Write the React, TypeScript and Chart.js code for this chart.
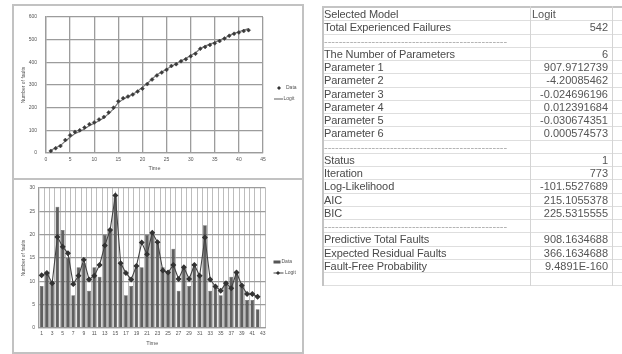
import React, { useEffect, useRef } from "react";
import { Chart, registerables } from "chart.js";

Chart.register(...registerables);

// ---------- data ----------
const weeks = [1, 2, 3, 4, 5, 6, 7, 8, 9, 10, 11, 12, 13, 14, 15, 16, 17, 18, 19, 20, 21, 22, 23, 24, 25, 26, 27, 28, 29, 30, 31, 32, 33, 34, 35, 36, 37, 38, 39, 40, 41, 42];
const weekLabels = ["1", "2", "3", "4", "5", "6", "7", "8", "9", "10", "11", "12", "13", "14", "15", "16", "17", "18", "19", "20", "21", "22", "23", "24", "25", "26", "27", "28", "29", "30", "31", "32", "33", "34", "35", "36", "37", "38", "39", "40", "41", "42", "43"];
const weeklyFaults = [9, 12, 10, 26, 21, 15, 7, 13, 14, 8, 13, 11, 20, 21, 28, 14, 7, 9, 13, 13, 20, 20, 18, 13, 12, 17, 8, 13, 9, 13, 11, 22, 8, 9, 7, 10, 11, 12, 9, 6, 6, 4];
const logitFaults = [11.3, 11.8, 9.6, 19.5, 17.4, 16, 9.4, 11.2, 14.6, 10.4, 11.2, 13.5, 17.7, 21, 28.4, 13.9, 11.8, 10.4, 13.3, 18.3, 15.8, 20.4, 18.4, 12.3, 11.9, 13.5, 10.5, 13, 10.5, 13.5, 11.2, 19.4, 10.4, 8.9, 8, 9.6, 8.5, 11.9, 9.1, 7.3, 7.3, 6.7];

const cumXMin = 0;
const cumXMax = 45;
const cumXStep = 5;
const cumYMax = 600;
const cumYStep = 100;
const barYMax = 30;
const barYStep = 5;

const SEP = "--------------------------------------------------";
const tableLabels = [
  "Selected Model",
  "Total Experienced Failures",
  SEP,
  "The Number of Parameters",
  "Parameter 1",
  "Parameter 2",
  "Parameter 3",
  "Parameter 4",
  "Parameter 5",
  "Parameter 6",
  SEP,
  "Status",
  "Iteration",
  "Log-Likelihood",
  "AIC",
  "BIC",
  SEP,
  "Predictive Total Faults",
  "Expected Residual Faults",
  "Fault-Free Probability",
  "",
];
const tableValues = [
  "Logit",
  "542",
  "",
  "6",
  "907.9712739",
  "-4.20085462",
  "-0.024696196",
  "0.012391684",
  "-0.030674351",
  "0.000574573",
  "",
  "1",
  "773",
  "-101.5527689",
  "215.1055378",
  "225.5315555",
  "",
  "908.1634688",
  "366.1634688",
  "9.4891E-160",
  "",
];

function cumulative(values: number[]): number[] {
  const out: number[] = [];
  let s = 0;
  for (const v of values) {
    s += v;
    out.push(s);
  }
  return out;
}

const FONT = "'Liberation Sans', Arial, sans-serif";
const TXT = "#555";
const GRID = "#9c9c9c";

function CumulativeChart() {
  const ref = useRef<HTMLCanvasElement | null>(null);
  useEffect(() => {
    if (!ref.current) return;
    const cumData = cumulative(weeklyFaults);
    const cumLogit = cumulative(logitFaults);
    const legend = {
      id: "topLegend",
      afterDraw(chart: any) {
        const ctx = chart.ctx as CanvasRenderingContext2D;
        const r = chart.chartArea.right;
        ctx.save();
        ctx.fillStyle = "#333";
        const mx = r + 16, my = 83;
        ctx.beginPath();
        ctx.moveTo(mx, my - 2);
        ctx.lineTo(mx + 2, my);
        ctx.lineTo(mx, my + 2);
        ctx.lineTo(mx - 2, my);
        ctx.closePath();
        ctx.fill();
        ctx.font = `5px ${FONT}`;
        ctx.fillStyle = TXT;
        ctx.textBaseline = "middle";
        ctx.fillText("Data", r + 23, my);
        ctx.strokeStyle = "#7a7a7a";
        ctx.lineWidth = 1.2;
        ctx.beginPath();
        ctx.moveTo(r + 11, 94);
        ctx.lineTo(r + 20, 94);
        ctx.stroke();
        ctx.fillText("Logit", r + 20.5, 94);
        ctx.restore();
      },
    };
    const chart = new Chart(ref.current, {
      type: "line",
      data: {
        datasets: [
          {
            label: "Data",
            data: weeks.map((w, i) => ({ x: w, y: cumData[i] })),
            showLine: false,
            pointStyle: "rectRot",
            pointRadius: 2,
            pointBackgroundColor: "#3a3a3a",
            pointBorderColor: "#3a3a3a",
            pointBorderWidth: 0.5,
            order: 0,
          },
          {
            label: "Logit",
            data: weeks.map((w, i) => ({ x: w, y: cumLogit[i] })),
            borderColor: "#7a7a7a",
            borderWidth: 1.2,
            pointRadius: 0,
            tension: 0,
            order: 1,
          },
        ],
      },
      options: {
        animation: false,
        responsive: false,
        layout: { padding: { top: 8, right: 40, left: 0, bottom: 0 } },
        plugins: { legend: { display: false }, tooltip: { enabled: false } },
        scales: {
          x: {
            type: "linear",
            min: cumXMin,
            max: cumXMax,
            ticks: { stepSize: cumXStep, font: { size: 5, family: FONT }, color: TXT, padding: 4, maxRotation: 0 },
            grid: { color: GRID, lineWidth: 1.3, drawTicks: false },
            border: { color: GRID, width: 1.3 },
            title: { display: true, text: "Time", font: { size: 5.5, family: FONT }, color: TXT, padding: { top: 0, bottom: 6.7 } },
            afterFit: (s: any) => {
              s.height = 25;
            },
          },
          y: {
            type: "linear",
            min: 0,
            max: cumYMax,
            ticks: { stepSize: cumYStep, font: { size: 5, family: FONT }, color: TXT, padding: 9 },
            grid: { color: GRID, lineWidth: 1.3, drawTicks: false },
            border: { color: GRID, width: 1.3 },
            title: { display: true, text: "Number of faults", font: { size: 5, family: FONT }, color: TXT, padding: { top: 8, bottom: 0 } },
            afterFit: (s: any) => {
              s.width = 33;
            },
          },
        },
      },
      plugins: [legend],
    } as any);
    return () => chart.destroy();
  }, []);
  return <canvas ref={ref} width={290} height={173} style={{ position: "absolute", left: 13, top: 5, width: 290, height: 173 }} />;
}

function WeeklyChart() {
  const ref = useRef<HTMLCanvasElement | null>(null);
  useEffect(() => {
    if (!ref.current) return;
    const legend = {
      id: "bottomLegend",
      afterDraw(chart: any) {
        const ctx = chart.ctx as CanvasRenderingContext2D;
        const r = chart.chartArea.right;
        ctx.save();
        ctx.fillStyle = "#555";
        ctx.fillRect(r + 8, 79.5, 7, 3);
        ctx.font = `5px ${FONT}`;
        ctx.textBaseline = "middle";
        ctx.fillStyle = TXT;
        ctx.fillText("Data", r + 16, 81);
        ctx.strokeStyle = "#444";
        ctx.lineWidth = 1;
        ctx.beginPath();
        ctx.moveTo(r + 8, 92);
        ctx.lineTo(r + 18, 92);
        ctx.stroke();
        ctx.fillStyle = "#333";
        const mx = r + 12.5, my = 92;
        ctx.beginPath();
        ctx.moveTo(mx, my - 2);
        ctx.lineTo(mx + 2, my);
        ctx.lineTo(mx, my + 2);
        ctx.lineTo(mx - 2, my);
        ctx.closePath();
        ctx.fill();
        ctx.fillStyle = TXT;
        ctx.fillText("Logit", r + 19.5, 92);
        ctx.restore();
      },
    };
    const chart = new Chart(ref.current, {
      type: "bar",
      data: {
        labels: weekLabels,
        datasets: [
          {
            type: "line",
            label: "Logit",
            data: logitFaults,
            borderColor: "#444",
            borderWidth: 1.1,
            pointStyle: "rectRot",
            pointRadius: 2.2,
            pointBackgroundColor: "#333",
            pointBorderColor: "#333",
            tension: 0,
            order: 0,
          },
          {
            type: "bar",
            label: "Data",
            data: weeklyFaults,
            backgroundColor: "#5f5f5f",
            borderColor: "#4a4a4a",
            borderWidth: 0.5,
            categoryPercentage: 1,
            barPercentage: 0.72,
            order: 1,
          },
        ],
      },
      options: {
        animation: false,
        responsive: false,
        layout: { padding: { top: 6, right: 37.5, left: 0, bottom: 0 } },
        plugins: { legend: { display: false }, tooltip: { enabled: false } },
        scales: {
          x: {
            type: "category",
            offset: true,
            ticks: {
              autoSkip: false,
              maxRotation: 0,
              font: { size: 5, family: FONT },
              color: TXT,
              padding: 3,
              callback: (_v: any, i: number) => (i % 2 === 0 ? weekLabels[i] : ""),
            },
            grid: { color: "#bdbdbd", lineWidth: 1, drawTicks: false, offset: true },
            border: { color: GRID, width: 1.3 },
            title: { display: true, text: "Time", font: { size: 5.5, family: FONT }, color: TXT, padding: { top: 0, bottom: 6.7 } },
            afterFit: (s: any) => {
              s.height = 25;
            },
          },
          y: {
            type: "linear",
            min: 0,
            max: barYMax,
            ticks: { stepSize: barYStep, font: { size: 5, family: FONT }, color: TXT, padding: 4 },
            grid: { color: GRID, lineWidth: 1.3, drawTicks: false },
            border: { color: GRID, width: 1.3 },
            title: { display: true, text: "Number of faults", font: { size: 5, family: FONT }, color: TXT, padding: { top: 8, bottom: 0 } },
            afterFit: (s: any) => {
              s.width = 26;
            },
          },
        },
      },
      plugins: [legend],
    } as any);
    return () => chart.destroy();
  }, []);
  return <canvas ref={ref} width={290} height={172} style={{ position: "absolute", left: 13, top: 181, width: 290, height: 172 }} />;
}

const line = (l: number, t: number, w: number, h: number, c = "#c2c2c2") => (
  <div style={{ position: "absolute", left: l, top: t, width: w, height: h, background: c }} />
);

function ResultTable() {
  const rowH = 13.26;
  return (
    <div style={{ position: "absolute", left: 322, top: 6, width: 300, fontFamily: FONT, fontSize: 11, color: "#4a4a4a" }}>
      <div style={{ position: "absolute", left: 0, top: 0, width: 300, height: 2, background: "#c4c4c4" }} />
      {tableLabels.map((lab, i) => {
        const isSep = lab === SEP;
        return (
          <div
            key={i}
            style={{
              position: "absolute",
              left: 0,
              top: 2 + i * rowH,
              width: 300,
              height: rowH,
              borderBottom: "1px solid #dedede",
              boxSizing: "border-box",
            }}
          >
            <div style={{ position: "absolute", left: 2, top: 0, lineHeight: `${rowH}px`, whiteSpace: "nowrap", letterSpacing: isSep ? 0 : -0.1, color: isSep ? "#aaa" : "#4a4a4a" }}>{lab}</div>
            <div style={{ position: "absolute", left: 208, width: 82, top: 0, lineHeight: `${rowH}px`, whiteSpace: "nowrap", textAlign: tableValues[i] === "Logit" ? "left" : "right", boxSizing: "border-box", paddingLeft: 2, paddingRight: 4, color: "#555" }}>
              {tableValues[i]}
            </div>
          </div>
        );
      })}
      <div style={{ position: "absolute", left: 0, top: 0, width: 2, height: 2 + tableLabels.length * rowH, background: "#c4c4c4" }} />
      <div style={{ position: "absolute", left: 208, top: 0, width: 1, height: 2 + tableLabels.length * rowH, background: "#d4d4d4" }} />
      <div style={{ position: "absolute", left: 290, top: 0, width: 1, height: 2 + tableLabels.length * rowH, background: "#d4d4d4" }} />
    </div>
  );
}

export default function App() {
  return (
    <div style={{ position: "absolute", left: 0, top: 0, width: 622, height: 354, background: "#fff", overflow: "hidden" }}>
      <CumulativeChart />
      <WeeklyChart />
      {line(12, 4, 292, 2)}
      {line(12, 178, 292, 2)}
      {line(12, 352, 292, 2)}
      {line(12, 4, 2, 350)}
      {line(302, 4, 2, 350)}
      <ResultTable />
    </div>
  );
}
